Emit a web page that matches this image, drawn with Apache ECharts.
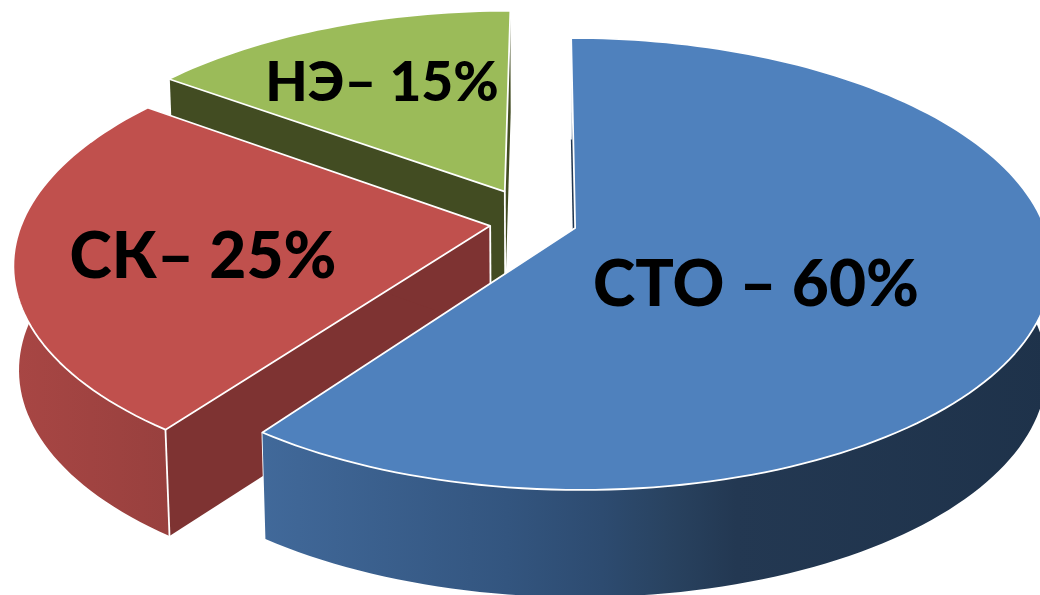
<!DOCTYPE html>
<html><head><meta charset="utf-8">
<style>html,body{margin:0;padding:0;background:#fff}#c{width:1040px;height:595px}</style>
<script src="https://cdn.jsdelivr.net/npm/echarts@6/dist/echarts.min.js"></script>
</head><body><div id="c"></div>
<script>
const categories = ['СТО', 'СК', 'НЭ'];
const shares = [60, 25, 15];
const labels = ['СТО – 60%', 'СК– 25%', 'НЭ– 15%'];

const total = shares.reduce((a, b) => a + b, 0);
const topPlane = { x: 546, y: 228, a: 470, b: 220.3, k: 0.159 };
const lowPlane = { x: 546, y: 332, a: 465, b: 223, k: 0.159 };
const explode = [[0.062, 0], [-0.119, -0.01], [-0.09, -0.17]];
const topColor = ['#4f81bd', '#c0504d', '#9bbb59'];
const sideColor = ['#1f3550', '#7e3332', '#424c22'];
const wallStops = [
  [[0, '#41699a'], [0.31, '#33557f'], [0.43, '#2d4b70'], [0.51, '#294361'], [0.6, '#233852'], [1, '#1e324a']],
  [[0, '#a84644'], [1, '#98403e']],
  [[0, '#424c22'], [1, '#424c22']]
];
const labelPos = [[756, 285], [203, 257], [382, 83]];
const labelSize = [64, 64, 55];

function project(p, X, Y) {
  const w = 1 - p.k * Y;
  return [p.x + p.a * X / w, p.y + p.b * Y / w];
}
function point(p, i, deg, r) {
  const t = deg * Math.PI / 180;
  return project(p, explode[i][0] + r * Math.sin(t), explode[i][1] - r * Math.cos(t));
}
function arc(p, i, a0, a1) {
  const out = [];
  const n = Math.max(2, Math.ceil((a1 - a0) / 1.5));
  for (let j = 0; j <= n; j++) out.push(point(p, i, a0 + (a1 - a0) * j / n, 1));
  return out;
}
// the outer wall is the union of the ruled strips between the two rims
function wallPath(a, b) {
  let d = '';
  for (let j = 0; j + 1 < a.length; j++) {
    const q = [a[j], a[j + 1], b[j + 1], b[j]];
    d += 'M' + q.map(c => c[0].toFixed(2) + ' ' + c[1].toFixed(2)).join('L') + 'Z';
  }
  return d;
}

const chart = echarts.init(document.getElementById('c'), null, { renderer: 'canvas' });
chart.setOption({
  animation: false,
  backgroundColor: '#ffffff',
  series: [{
    type: 'custom',
    coordinateSystem: 'none',
    clip: false,
    silent: true,
    data: categories.map((c, i) => ({ name: c, value: [shares[i], i] })),
    renderItem(params, api) {
      const i = params.dataIndex;
      const before = shares.slice(0, i).reduce((a, b) => a + b, 0);
      const a0 = before / total * 360;
      const a1 = (before + shares[i]) / total * 360;
      const base = (shares.length - i) * 10;
      const topArc = arc(topPlane, i, a0, a1);
      const lowArc = arc(lowPlane, i, a0, a1);
      const apexT = point(topPlane, i, 0, 0);
      const apexL = point(lowPlane, i, 0, 0);
      const sT = topArc[0], eT = topArc[topArc.length - 1];
      const sL = lowArc[0], eL = lowArc[lowArc.length - 1];
      const edge = { stroke: '#ffffff', lineWidth: 1.8, fill: null };
      const flat = { fill: sideColor[i] };
      const kids = [
        { type: 'polygon', z2: base, shape: { points: [apexT, sT, sL, apexL] }, style: flat },
        { type: 'polygon', z2: base, shape: { points: [apexT, eT, eL, apexL] }, style: flat },
        { type: 'polyline', z2: base + 1, shape: { points: [apexT, apexL] }, style: edge },
        { type: 'polyline', z2: base + 1, shape: { points: [eT, eL] }, style: edge },
        { type: 'path', z2: base + 2, shape: { pathData: wallPath(topArc, lowArc) },
          style: { fill: { type: 'linear', x: 0, y: 0, x2: 1, y2: 0,
            colorStops: wallStops[i].map(s => ({ offset: s[0], color: s[1] })) } } },
        { type: 'polyline', z2: base + 3, shape: { points: [sT, sL] }, style: edge },
        { type: 'polygon', z2: base + 4, shape: { points: [apexT].concat(topArc) },
          style: { fill: topColor[i], stroke: '#ffffff', lineWidth: 1.8, lineJoin: 'round' } },
        { type: 'text', z2: 200, x: labelPos[i][0], y: labelPos[i][1],
          style: { text: labels[i], fill: '#000000', align: 'center', verticalAlign: 'middle',
            font: '900 ' + labelSize[i] + 'px Lato, "Open Sans", sans-serif' } }
      ];
      return { type: 'group', children: kids };
    }
  }]
});
</script></body></html>
